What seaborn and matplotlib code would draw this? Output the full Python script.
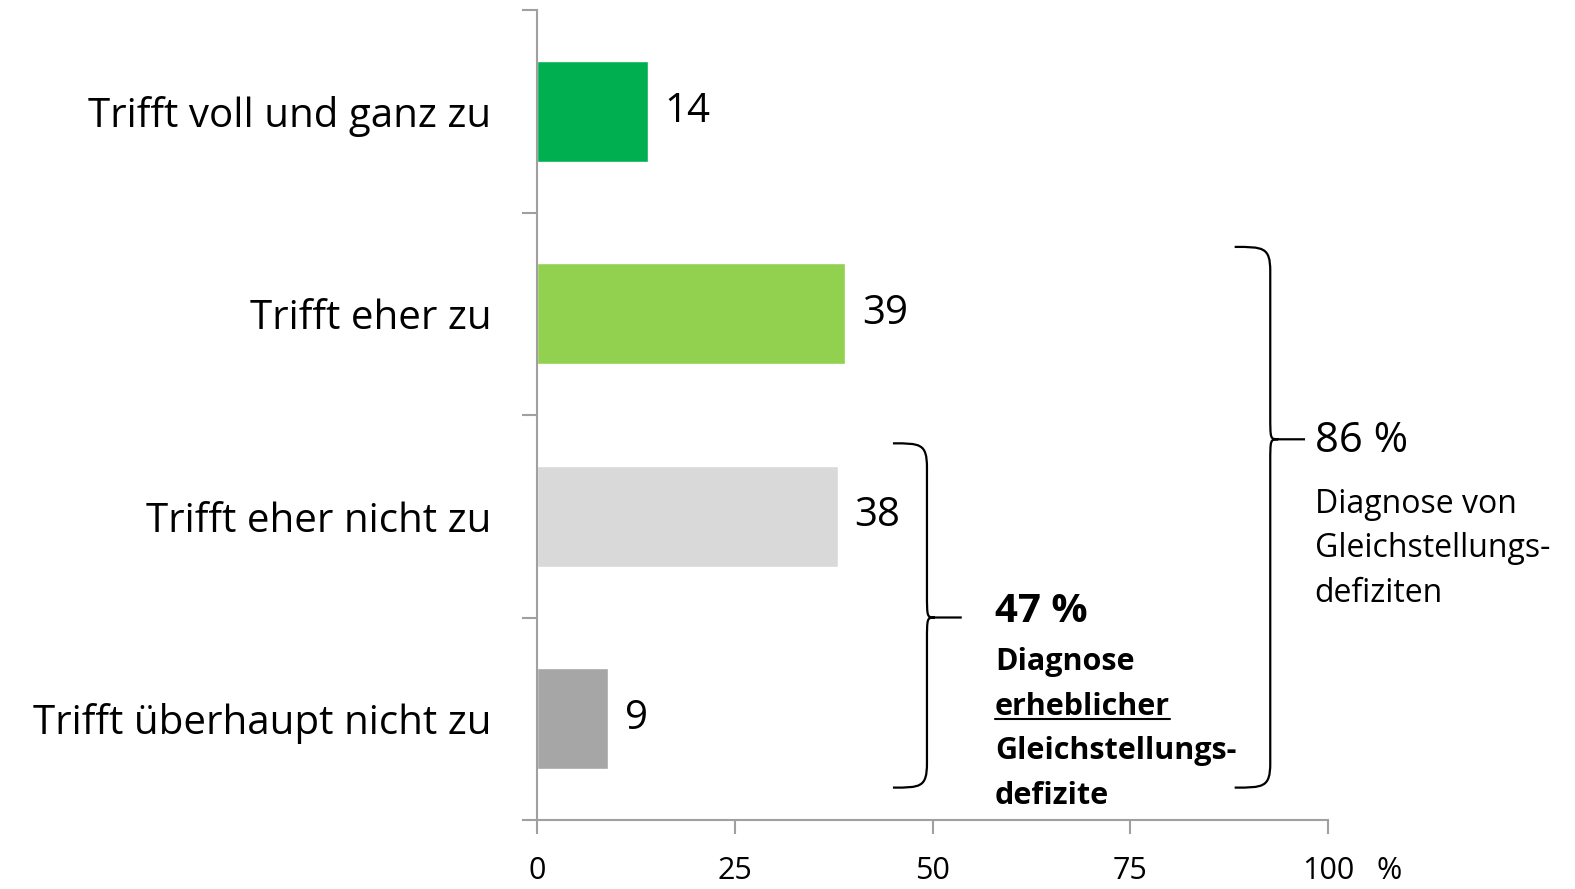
import matplotlib
matplotlib.use("Agg")
import matplotlib.pyplot as plt
import seaborn as sns
from matplotlib.path import Path
from matplotlib.patches import PathPatch

categories = ["Trifft voll und ganz zu", "Trifft eher zu", "Trifft eher nicht zu", "Trifft überhaupt nicht zu"]
values = [14, 39, 38, 9]
colors = ["#00B050", "#92D050", "#D9D9D9", "#A6A6A6"]
xticks = [0, 25, 50, 75, 100]
xticklabels = ["0", "25", "50", "75", "100"]
unit_label = "%"
group1_label = "47 %"
group1_text = ["Diagnose", "erheblicher", "Gleichstellungs-", "defizite"]
group2_label = "86 %"
group2_text = ["Diagnose von", "Gleichstellungs-", "defiziten"]

sns.set_theme(style="white")
plt.rcParams['font.family'] = ['Open Sans', 'DejaVu Sans']
plt.rcParams['text.color'] = 'black'
plt.rcParams['xtick.color'] = 'black'
plt.rcParams['ytick.color'] = 'black'

fig = plt.figure(figsize=(15.75, 8.89), dpi=100)
ax = fig.add_axes([537/1575, 1-820/889, (1328-537)/1575, (820-10)/889])

sns.barplot(x=values, y=categories, hue=categories, palette=colors, legend=False,
            width=0.5, orient="h", ax=ax, saturation=1)

ax.set_xlim(0, 100)
ax.set_ylim(3.5, -0.5)
ax.set_xlabel("")
ax.set_ylabel("")

spine_c = "#A0A0A0"
for s in ["top", "right"]:
    ax.spines[s].set_visible(False)
for s in ["left", "bottom"]:
    ax.spines[s].set_color(spine_c)
    ax.spines[s].set_linewidth(1.5)

ax.set_xticks(xticks)
ax.set_xticklabels(xticklabels, fontsize=22, color="black")
ax.tick_params(axis="x", direction="out", length=10, width=1.5, color=spine_c, pad=16, bottom=True)
ax.annotate(unit_label, xy=(107.7, 0), xycoords=ax.get_xaxis_transform(),
            xytext=(0, -26), textcoords="offset points", ha="center", va="top",
            fontsize=22, color="black", annotation_clip=False)
ax.set_yticks(range(len(categories)))
ax.set_yticklabels(categories, fontsize=29, color="black")
ax.tick_params(axis="y", which="major", length=0, pad=33, left=False)
ax.set_yticks([-0.5, 0.5, 1.5, 2.5, 3.5], minor=True)
ax.tick_params(axis="y", which="minor", direction="out", length=11, width=1.5, color=spine_c, left=True)

for cont in ax.containers:
    ax.bar_label(cont, fmt="%d", padding=12, fontsize=29, color="black")

def brace(ax, x0, x1, x2, yt, yb, ym, r=0.12, tip=1.0):
    verts = [(x0, yt), (x0 + (x1 - x0) * 0.8, yt), (x1, yt), (x1, yt + r),
             (x1, ym - r),
             (x1, ym), (x1, ym), (x1 + tip, ym),
             (x2, ym),
             (x1 + tip, ym),
             (x1, ym), (x1, ym), (x1, ym + r),
             (x1, yb - r),
             (x1, yb), (x0 + (x1 - x0) * 0.8, yb), (x0, yb)]
    codes = [Path.MOVETO, Path.CURVE4, Path.CURVE4, Path.CURVE4,
             Path.LINETO,
             Path.CURVE4, Path.CURVE4, Path.CURVE4,
             Path.LINETO,
             Path.MOVETO,
             Path.CURVE4, Path.CURVE4, Path.CURVE4,
             Path.LINETO,
             Path.CURVE4, Path.CURVE4, Path.CURVE4]
    ax.add_patch(PathPatch(Path(verts, codes), fill=False, lw=1.6, color="black", clip_on=False))

brace(ax, 45.0, 49.3, 53.7, 1.64, 3.34, 2.50)
brace(ax, 88.2, 92.7, 97.1, 0.67, 3.34, 1.62)

# group 1 text
ax.text(57.9, 2.47, group1_label, fontsize=29, fontweight="bold", va="center", ha="left", color="black")
ys1 = [2.72, 2.94, 3.16, 3.38]
fig.canvas.draw()
renderer = fig.canvas.get_renderer()
for t, y in zip(group1_text, ys1):
    txt = ax.text(57.9, y, t, fontsize=22, fontweight="bold", va="center", ha="left",
                  clip_on=False, color="black")
    if t == "erheblicher":
        bb = txt.get_window_extent(renderer=renderer)
        inv = ax.transData.inverted()
        (xa, ya) = inv.transform((bb.x0, bb.y0 + 3))
        (xb, _) = inv.transform((bb.x1, bb.y0 + 3))
        ax.plot([xa, xb], [ya, ya], color="black", lw=1.5, clip_on=False)

ax.text(98.3, 1.63, group2_label, fontsize=30, va="center", ha="left", clip_on=False, color="black")
ys2 = [1.94, 2.16, 2.38]
for t, y in zip(group2_text, ys2):
    ax.text(98.3, y, t, fontsize=23, va="center", ha="left", clip_on=False, color="black")

fig.savefig("out.png", dpi=100)
